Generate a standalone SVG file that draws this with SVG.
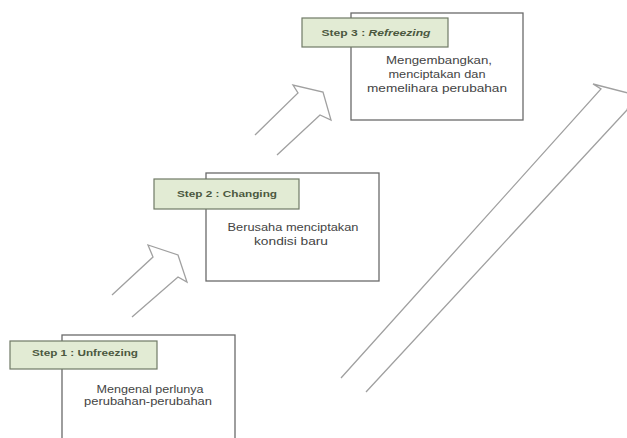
<svg xmlns="http://www.w3.org/2000/svg" width="627" height="438" viewBox="0 0 627 438">
<style>
.box{fill:#fff;stroke:#6a6a6a;stroke-width:1.3}
.lab{fill:#e2ebd4;stroke:#707a66;stroke-width:1.2}
.lt{font-family:"Liberation Sans",Arial,sans-serif;font-size:9px;font-weight:bold;fill:#4b5840;text-anchor:middle}
.bt{font-family:"Liberation Sans",Arial,sans-serif;font-size:10px;fill:#444;text-anchor:middle}
.arr{fill:none;stroke:#a0a0a0;stroke-width:1.3;stroke-linejoin:miter}
</style>
<rect width="627" height="438" fill="#fff"/>
<g id="connectors">
<path class="arr" d="M112,295 L153,257 L148,245 L178,255 L187,282 L178,277 L132,317"/>
<path class="arr" d="M255,135 L298,93 L293,85 L323,92 L331,120 L320,115 L277,155"/>
<path class="arr" d="M341,378 L601,89 L593,84 L632,94 L627,110 L366,392"/>
</g>
<g id="step1">
<rect class="box" x="62" y="335" width="173" height="110"/>
<rect class="lab" x="10" y="341" width="147" height="28"/>
<text class="lt" x="85" y="356" textLength="106" lengthAdjust="spacingAndGlyphs">Step 1 : Unfreezing</text>
<text class="bt" x="150" y="393" textLength="107" lengthAdjust="spacingAndGlyphs">Mengenal perlunya</text>
<text class="bt" x="148" y="405" textLength="128" lengthAdjust="spacingAndGlyphs">perubahan-perubahan</text>
</g>
<g id="step2">
<rect class="box" x="206" y="173" width="173" height="108"/>
<rect class="lab" x="154" y="179" width="145" height="30"/>
<text class="lt" x="227" y="197" textLength="100" lengthAdjust="spacingAndGlyphs">Step 2 : Changing</text>
<text class="bt" x="293" y="231" textLength="131" lengthAdjust="spacingAndGlyphs">Berusaha menciptakan</text>
<text class="bt" x="291" y="245" textLength="74" lengthAdjust="spacingAndGlyphs">kondisi baru</text>
</g>
<g id="step3">
<rect class="box" x="351" y="13" width="172" height="107"/>
<rect class="lab" x="302" y="18" width="146" height="29"/>
<text class="lt" x="376" y="36" textLength="109" lengthAdjust="spacingAndGlyphs">Step 3 : <tspan font-style="italic">Refreezing</tspan></text>
<text class="bt" x="439" y="64" textLength="106" lengthAdjust="spacingAndGlyphs">Mengembangkan,</text>
<text class="bt" x="437" y="78" textLength="97" lengthAdjust="spacingAndGlyphs">menciptakan dan</text>
<text class="bt" x="437" y="92" textLength="140" lengthAdjust="spacingAndGlyphs">memelihara perubahan</text>
</g>
</svg>
